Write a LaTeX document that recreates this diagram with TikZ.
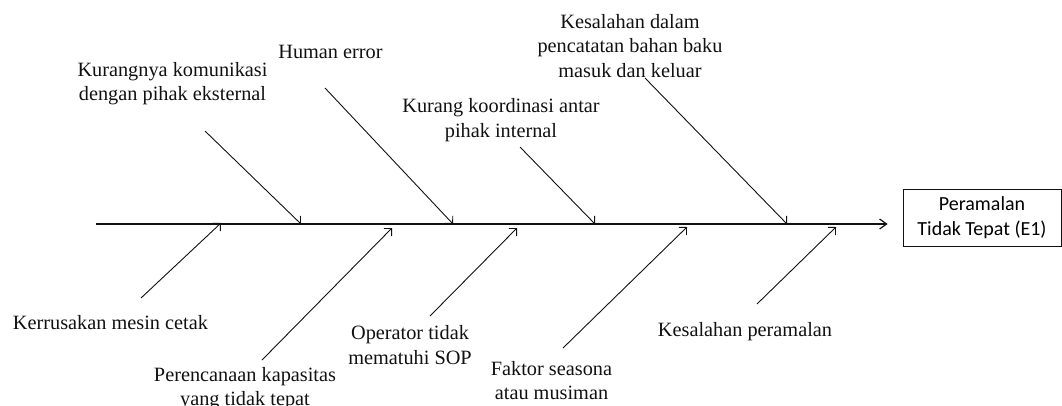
\documentclass[tikz,border=0pt]{standalone}
\usepackage{fontspec}
\setmainfont{Liberation Serif}
\newfontfamily\boxfont{Carlito}
\usetikzlibrary{arrows.meta,positioning}
\definecolor{ink}{HTML}{111111}

\begin{document}
\begin{tikzpicture}[x=1pt,y=-1pt,>={Straight Barb[length=7pt,width=10pt]},
  lbl/.style={font=\fontsize{20.3}{24.5}\selectfont,align=center,inner sep=0pt,text=ink},
  bone/.style={-{Straight Barb[length=5.5pt,width=11pt]},ink,line width=0.9pt}]
  \useasboundingbox (0,0) rectangle (1062,405);
  % effect
  \node[draw=ink,line width=0.8pt,minimum width=158pt,minimum height=57pt,inner sep=0pt,
        font=\boxfont\fontsize{20}{24.5}\selectfont,align=center] (effect) at (982,217.5) {Peramalan\\Tidak Tepat (E1)};
  \coordinate (tail) at (96,224);
  \draw[->,ink,line width=1.2pt,shorten >=15pt] (tail) -- (tail -| effect.west);
  % causes above the spine
  \foreach \n/\x/\y/\t in {kom/172.5/83.5/{Kurangnya komunikasi\\dengan pihak eksternal},
      hum/330.5/52/{Human error},koo/501/120/{Kurang koordinasi antar\\pihak internal},
      cat/630/46/{Kesalahan dalam\\pencatatan bahan baku\\masuk dan keluar}}
    \node[lbl] (\n) at (\x,\y) {\t};
  % causes below the spine
  \foreach \n/\x/\y/\t in {rus/110.5/323/{Kerrusakan mesin cetak},
      kap/245/388.5/{Perencanaan kapasitas\\yang tidak tepat},sop/410/345/{Operator tidak\\mematuhi SOP},
      mus/551.5/380.5/{Faktor seasona\\atau musiman},ram/745/332/{Kesalahan peramalan}}
    \node[lbl] (\n) at (\x,\y) {\t};
  % bones
  \foreach \n/\sx/\sy/\ex/\ey in {kom/205/131/301/224,hum/325/88/453/224,koo/520/147/595/224,
      cat/645/78/787/224,rus/141/298/221/223,kap/262/360/392/228,sop/430/316/517/228,
      mus/563/348/687/227,ram/757/304/836/227}{
    \coordinate (\n-s) at (\sx,\sy); \coordinate (\n-e) at (\ex,\ey);
    \draw[bone] (\n-s) -- (\n-e);}
\end{tikzpicture}
\end{document}
